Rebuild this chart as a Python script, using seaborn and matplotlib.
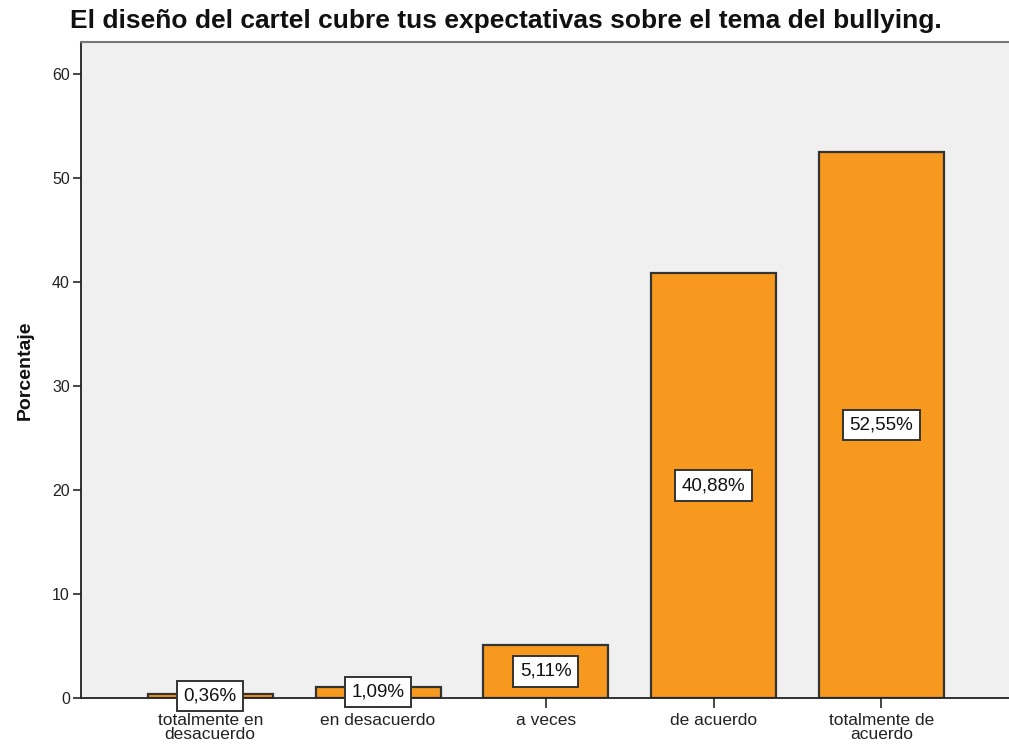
import matplotlib

matplotlib.use("Agg")
import matplotlib.pyplot as plt
import pandas as pd
import seaborn as sns

categories = ["totalmente en\ndesacuerdo", "en desacuerdo", "a veces", "de acuerdo", "totalmente de\nacuerdo"]
percentages = [0.36, 1.09, 5.11, 40.88, 52.55]
bar_labels = ["0,36%", "1,09%", "5,11%", "40,88%", "52,55%"]
y_ticks = [0, 10, 20, 30, 40, 50, 60]

frame = pd.DataFrame({"categoria": categories, "porcentaje": percentages})

sns.set_style("white")
plt.rcParams["font.family"] = ["Liberation Sans", "DejaVu Sans"]

figure = plt.figure(figsize=(10.09, 7.5), dpi=100)
axis = figure.add_axes([0.0803, 0.0693, 0.9197, 0.8747])
axis.set_facecolor("#F0F0F0")

sns.barplot(
    data=frame,
    x="categoria",
    y="porcentaje",
    color="#F7991F",
    saturation=1,
    width=0.745,
    edgecolor="#333333",
    linewidth=1.6,
    ax=axis,
)

for position, (value, label) in enumerate(zip(percentages, bar_labels)):
    axis.text(
        position,
        value / 2,
        label,
        ha="center",
        va="center",
        fontsize=13.5,
        color="#111111",
        bbox={"boxstyle": "square,pad=0.35", "facecolor": "white", "edgecolor": "#333333", "linewidth": 1.4},
    )

axis.set_xlim(-0.77, 4.76)
axis.set_ylim(0, 63.1)
axis.set_yticks(y_ticks)
axis.tick_params(axis="y", length=6, width=1.2, labelsize=11.5, labelcolor="#222222", pad=2, left=True)
axis.tick_params(axis="x", length=7, width=1.2, labelsize=12.5, labelcolor="#222222", pad=4, bottom=True)
for label in axis.get_xticklabels():
    label.set_linespacing(0.85)

for side in ["left", "bottom"]:
    axis.spines[side].set_color("#222222")
    axis.spines[side].set_linewidth(1.3)
axis.spines["top"].set_color("#777777")
axis.spines["top"].set_linewidth(1.5)
axis.spines["right"].set_visible(False)

axis.set_xlabel("")
axis.set_ylabel("Porcentaje", fontsize=14, fontweight="bold", color="#111111", labelpad=13)
figure.text(
    0.069,
    0.972,
    "El diseño del cartel cubre tus expectativas sobre el tema del bullying.",
    fontsize=19,
    fontweight="bold",
    color="#111111",
    ha="left",
    va="center",
)

figure.savefig("out.png", dpi=100)
plt.close(figure)
